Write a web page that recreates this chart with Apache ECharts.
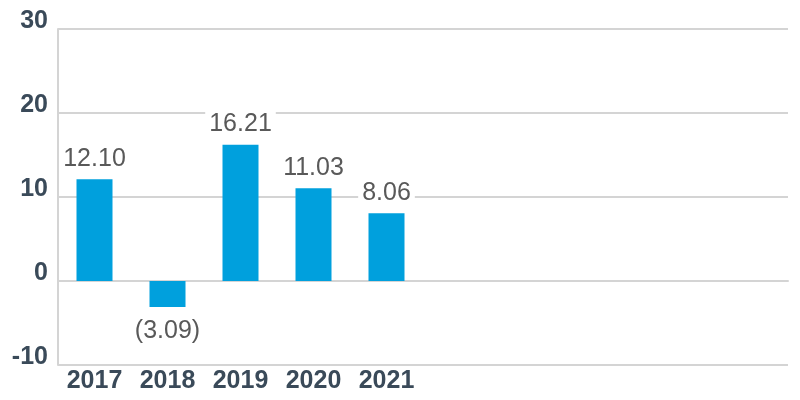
<!DOCTYPE html>
<html>
<head>
<meta charset="utf-8">
<script src="https://cdn.jsdelivr.net/npm/echarts@6/dist/echarts.min.js"></script>
<style>html,body{margin:0;padding:0;background:#fff}#c{width:800px;height:400px}</style>
</head>
<body>
<div id="c"></div>
<script>
var categories = ['2017', '2018', '2019', '2020', '2021', '', '', '', '', ''];
var values = [12.10, -3.09, 16.21, 11.03, 8.06];
var yTicks = { min: -10, max: 30, interval: 10 };

var axisFont = '"Liberation Sans", Arial, sans-serif';
var chart = echarts.init(document.getElementById('c'), null, { renderer: 'canvas' });

var dataItems = values.map(function (v) {
  return v < 0
    ? { value: v, label: { position: 'bottom', distance: 12 } }
    : { value: v, label: { position: 'top', distance: 8 } };
});

chart.setOption({
  animation: false,
  backgroundColor: '#ffffff',
  grid: { left: 58, right: 12, top: 29, bottom: 35, containLabel: false },
  xAxis: {
    type: 'category',
    data: categories,
    axisLine: { show: true, lineStyle: { color: '#d4d4d4', width: 2 } },
    axisTick: { show: false },
    axisLabel: {
      color: '#3a4a59', fontSize: 25, fontWeight: 'bold', fontFamily: axisFont,
      margin: 4, interval: 0
    },
    splitLine: { show: false }
  },
  yAxis: {
    type: 'value',
    min: yTicks.min, max: yTicks.max, interval: yTicks.interval,
    axisLine: { show: true, lineStyle: { color: '#d4d4d4', width: 2 } },
    axisTick: { show: false },
    axisLabel: {
      color: '#3a4a59', fontSize: 25, fontWeight: 'bold', fontFamily: axisFont,
      margin: 10, verticalAlign: 'bottom', lineHeight: 16
    },
    splitLine: { show: true, lineStyle: { color: '#d4d4d4', width: 2 } }
  },
  series: [{
    type: 'bar',
    data: dataItems,
    barWidth: 36,
    itemStyle: { color: '#00a0dd' },
    label: {
      show: true,
      color: '#595959',
      fontSize: 25,
      fontFamily: '"Liberation Sans", Arial, sans-serif',
      backgroundColor: '#ffffff',
      padding: [0, 4, 0, 4],
      formatter: function (p) {
        var v = p.value;
        return v < 0 ? '(' + Math.abs(v).toFixed(2) + ')' : v.toFixed(2);
      }
    }
  }]
});
</script>
</body>
</html>
